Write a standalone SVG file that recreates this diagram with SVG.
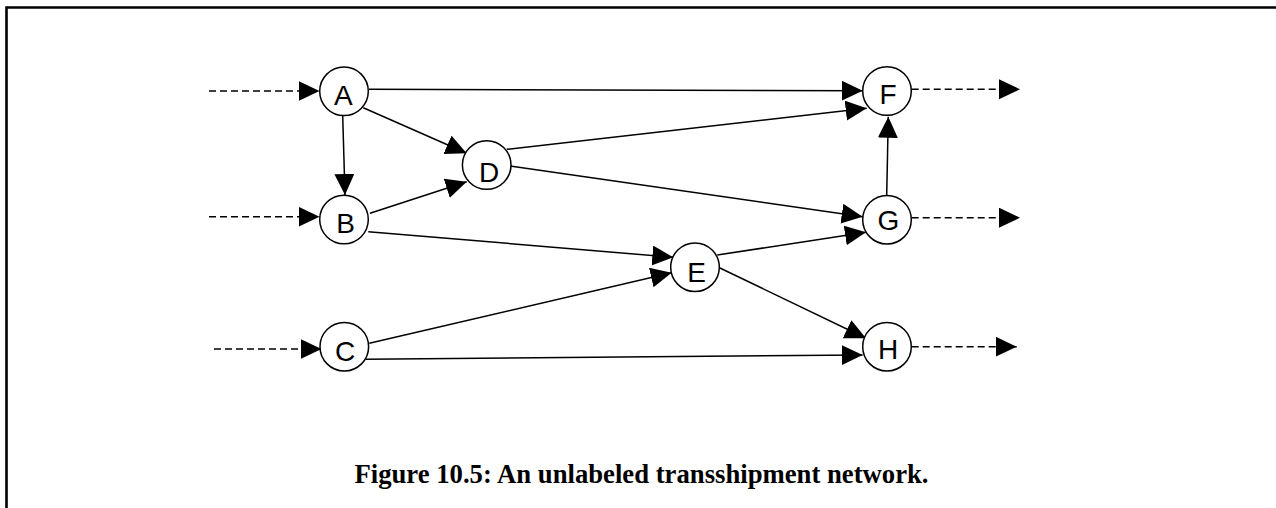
<svg xmlns="http://www.w3.org/2000/svg" width="1276" height="508" viewBox="0 0 1276 508">
<style>
.node circle{fill:#fff;stroke:#000;stroke-width:1.5}
.node text{font-family:"Liberation Sans",Arial,sans-serif;font-size:28px;fill:#000;text-anchor:middle}
.edge{fill:none;stroke:#000;stroke-width:1.5;marker-end:url(#ah)}
.dash{stroke-dasharray:7,4}
.caption{font-family:"Liberation Serif","Times New Roman",serif;font-weight:bold;font-size:26.7px;text-anchor:middle;fill:#000}
</style>
<defs>
<marker id="ah" markerUnits="userSpaceOnUse" markerWidth="22" markerHeight="21" refX="21" refY="10" orient="auto">
<path d="M0,0 L21,10 L0,20 z" fill="#000"/>
</marker>
</defs>
<rect width="1276" height="508" fill="#fff"/>
<path d="M6.5,512 V7.5 H1280" fill="none" stroke="#000" stroke-width="2.6"/>
<g id="connectors">
<line class="edge dash" x1="209" y1="91" x2="319.5" y2="91"/>
<line class="edge dash" x1="209" y1="216.7" x2="319.5" y2="216.7"/>
<line class="edge dash" x1="214" y1="349" x2="321.5" y2="349"/>
<line class="edge dash" x1="911.7" y1="89.3" x2="1020" y2="89.3"/>
<line class="edge dash" x1="911.7" y1="217.7" x2="1020" y2="217.7"/>
<line class="edge dash" x1="911.7" y1="346.7" x2="1016.7" y2="346.7"/>
<line class="edge" x1="369" y1="89.3" x2="862.7" y2="90.7"/>
<line class="edge" x1="363.3" y1="107.7" x2="466.7" y2="153.3"/>
<line class="edge" x1="342.7" y1="116" x2="345" y2="195"/>
<line class="edge" x1="370" y1="213.3" x2="466.7" y2="181.7"/>
<line class="edge" x1="368.3" y1="231.7" x2="673.3" y2="257.3"/>
<line class="edge" x1="369.3" y1="343.3" x2="671.7" y2="272.7"/>
<line class="edge" x1="365.7" y1="359.3" x2="862.7" y2="355"/>
<line class="edge" x1="506.7" y1="149.3" x2="866.7" y2="108.3"/>
<line class="edge" x1="510" y1="166" x2="862.7" y2="216.7"/>
<line class="edge" x1="717.3" y1="255" x2="866" y2="232.3"/>
<line class="edge" x1="717.3" y1="266.7" x2="866" y2="338.3"/>
<line class="edge" x1="886.7" y1="195" x2="888.3" y2="116.7"/>
</g>
<g id="node-A" class="node"><circle cx="344" cy="91.3" r="24.3"/><text x="343.3" y="105">A</text></g>
<g id="node-B" class="node"><circle cx="344" cy="219.5" r="24.3"/><text x="345.5" y="233.3">B</text></g>
<g id="node-C" class="node"><circle cx="344.3" cy="346.7" r="24.3"/><text x="345" y="360.7">C</text></g>
<g id="node-D" class="node"><circle cx="486.7" cy="165" r="24.3"/><text x="489" y="181.7">D</text></g>
<g id="node-E" class="node"><circle cx="695" cy="267.2" r="24.3"/><text x="696.7" y="281.7">E</text></g>
<g id="node-F" class="node"><circle cx="887" cy="91" r="24.3"/><text x="888" y="104.3">F</text></g>
<g id="node-G" class="node"><circle cx="887" cy="219.7" r="24.3"/><text x="888.3" y="229.5">G</text></g>
<g id="node-H" class="node"><circle cx="887" cy="346.7" r="24.3"/><text x="888" y="359.3">H</text></g>
<text class="caption" x="641.5" y="483">Figure 10.5: An unlabeled transshipment network.</text>
</svg>
